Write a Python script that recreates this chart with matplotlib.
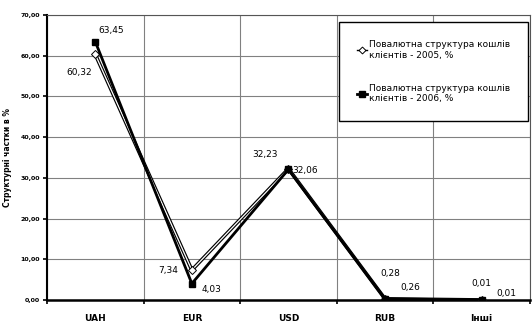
import matplotlib
matplotlib.use("Agg")
import matplotlib.pyplot as plt
from matplotlib.ticker import MultipleLocator, FuncFormatter, FixedLocator
from matplotlib.lines import Line2D

categories = ["UAH", "EUR", "USD", "RUB", "Інші"]
values_2005 = [60.32, 7.34, 32.23, 0.28, 0.01]
values_2006 = [63.45, 4.03, 32.06, 0.26, 0.01]
labels_2005 = ["60,32", "7,34", "32,23", "0,28", "0,01"]
labels_2006 = ["63,45", "4,03", "32,06", "0,26", "0,01"]
series_names = ["Повалютна структура кошлів\nклієнтів - 2005, %",
                "Повалютна структура кошлів\nклієнтів - 2006, %"]
y_label = "Структурні частки в %"

plt.rcParams['font.family'] = ['DejaVu Sans']
fig = plt.figure(figsize=(5.32, 3.32), dpi=100)
ax = fig.add_axes([0.0883, 0.0964, 0.9077, 0.8586])

x = list(range(len(categories)))
# 2005: hollow line (black outline, white core) with white diamonds
ax.plot(x, values_2005, color='black', lw=2.6, zorder=3, solid_joinstyle='miter')
ax.plot(x, values_2005, color='white', lw=0.9, zorder=3.5, marker='D', ms=3.8,
        mfc='white', mec='black', mew=0.7)
# 2006: thick black line with squares
ax.plot(x, values_2006, color='black', lw=2.0, marker='s', ms=5,
        mfc='black', mec='black', zorder=5)

# data labels (offsets in points)
off05 = [(-11.5, -13), (-17, 0), (-16.5, 10), (4, 18), (0, 12)]
off06 = [(11.5, 8), (14, -4), (12, -0.5), (18, 8.5), (18, 5)]
for i in x:
    ax.annotate(labels_2005[i], (i, values_2005[i]), xytext=off05[i],
                textcoords='offset points', ha='center', va='center', fontsize=6.5)
    ax.annotate(labels_2006[i], (i, values_2006[i]), xytext=off06[i],
                textcoords='offset points', ha='center', va='center', fontsize=6.5)

ax.set_xlim(-0.5, 4.5)
ax.set_ylim(0, 70)
ax.yaxis.set_major_locator(MultipleLocator(10))
ax.yaxis.set_major_formatter(FuncFormatter(lambda v, p: f"{v:.2f}".replace('.', ',')))
ax.set_xticks(x)
ax.set_xticklabels(categories, fontsize=6.5, fontweight='bold')
ax.xaxis.set_minor_locator(FixedLocator([i + 0.5 for i in range(-1, 5)]))
for lab in ax.get_yticklabels():
    lab.set_fontsize(4.5)
    lab.set_fontweight('bold')
ax.tick_params(axis='x', which='major', length=0, pad=10)
ax.tick_params(axis='x', which='minor', length=3, width=1.2, direction='out')
ax.tick_params(axis='y', which='major', length=3, width=1.2, direction='out', pad=2)
ax.grid(True, axis='y', color='#808080', lw=0.8)
ax.grid(True, axis='x', which='minor', color='#808080', lw=0.8)
ax.set_axisbelow(True)
for s in ['top', 'right']:
    ax.spines[s].set_color('#555555')
    ax.spines[s].set_linewidth(0.8)
ax.spines['left'].set_linewidth(1.5)
ax.spines['bottom'].set_linewidth(1.8)

ax.set_ylabel(y_label, fontsize=5.5, fontweight='bold', labelpad=6)

h1 = Line2D([], [], color='black', lw=1.0, marker='D', ms=3.5, mfc='white', mec='black', mew=0.7)
h2 = Line2D([], [], color='black', lw=2.0, marker='s', ms=4.5, mfc='black', mec='black')
leg = ax.legend([h1, h2], series_names, loc='upper right',
                bbox_to_anchor=(0.9956, 0.975), fontsize=6.5, frameon=True,
                fancybox=False, edgecolor='black', framealpha=1,
                handlelength=1.1, handletextpad=0.2, labelspacing=2.7,
                borderpad=2.0, borderaxespad=0)
leg.get_frame().set_linewidth(1.0)

fig.savefig("out.png", dpi=100)
